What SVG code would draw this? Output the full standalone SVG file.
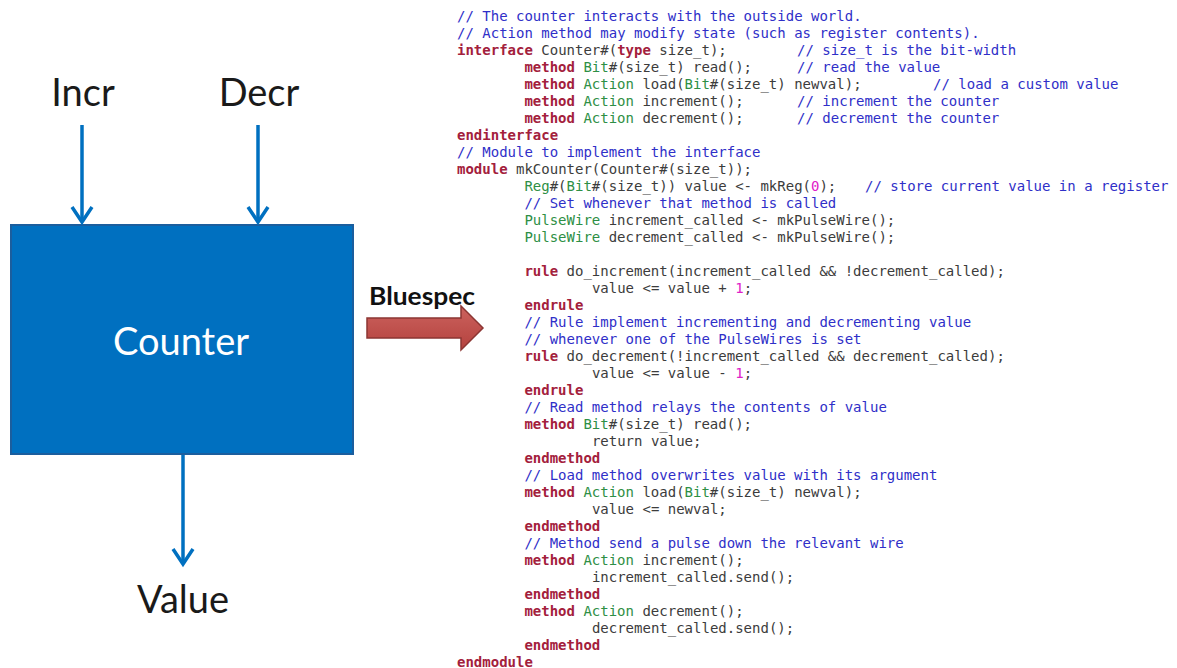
<svg xmlns="http://www.w3.org/2000/svg" width="1177" height="668" viewBox="0 0 1177 668">
<defs>
<style>
.lbl{font-family:Lato,"Liberation Sans",sans-serif;font-size:38px;fill:#1a1a1a;text-anchor:middle}
.code{font-family:"DejaVu Sans Mono","Liberation Mono",monospace;font-size:14px;fill:#3c3c3c}
.c{fill:#2f2fc8}
.k{fill:#a3203c;font-weight:bold}
.t{fill:#2e8f45}
.n{fill:#e020c8}
.wire{stroke:#0070c0;stroke-width:3.5;fill:none}
</style>
<marker id="ah" markerUnits="userSpaceOnUse" markerWidth="24" markerHeight="28" viewBox="-20 -14 24 28" refX="0" refY="0" orient="auto">
<path d="M-15,-10 L0,0 L-15,10" fill="none" stroke="#0070c0" stroke-width="3.5"/>
</marker>
<linearGradient id="rg" x1="0" y1="0" x2="0" y2="1">
<stop offset="0" stop-color="#cc625e"/>
<stop offset="1" stop-color="#b4423e"/>
</linearGradient>
</defs>
<rect width="1177" height="668" fill="#ffffff"/>

<g id="incr"><text class="lbl" x="83" y="106">Incr</text></g>
<g id="decr"><text class="lbl" x="259" y="106">Decr</text></g>
<g id="counter">
<rect x="11" y="225" width="342" height="229" fill="#0070c0" stroke="#1b5e9e" stroke-width="2"/>
<text class="lbl" x="181" y="355" style="fill:#ffffff">Counter</text>
</g>
<g id="value"><text class="lbl" x="183" y="613">Value</text></g>

<g id="connectors">
<line class="wire" x1="82" y1="125" x2="82" y2="222" marker-end="url(#ah)"/>
<line class="wire" x1="258" y1="125" x2="258" y2="222" marker-end="url(#ah)"/>
<line class="wire" x1="183" y1="455" x2="183" y2="564" marker-end="url(#ah)"/>
</g>

<g id="bluespec">
<text x="369" y="305" font-family="Lato,'Liberation Sans',sans-serif" font-weight="bold" font-size="25" fill="#111" textLength="106" lengthAdjust="spacingAndGlyphs">Bluespec</text>
<polygon points="367,318 461,318 461,306 483,328 461,350 461,338 367,338" fill="url(#rg)" stroke="#8c3633" stroke-width="1.5"/>
</g>

<g id="code" class="code">
<text x="457" y="21" class="c">// The counter interacts with the outside world.</text>
<text x="457" y="38" class="c">// Action method may modify state (such as register contents).</text>
<text x="457" y="55"><tspan class="k">interface</tspan> Counter#(<tspan class="k">type</tspan> size_t);<tspan x="797" class="c">// size_t is the bit-width</tspan></text>
<text x="524.4" y="72"><tspan class="k">method</tspan> <tspan class="t">Bit</tspan>#(size_t) read();<tspan x="797" class="c">// read the value</tspan></text>
<text x="524.4" y="89"><tspan class="k">method</tspan> <tspan class="t">Action</tspan> load(<tspan class="t">Bit</tspan>#(size_t) newval);<tspan x="933" class="c">// load a custom value</tspan></text>
<text x="524.4" y="106"><tspan class="k">method</tspan> <tspan class="t">Action</tspan> increment();<tspan x="797" class="c">// increment the counter</tspan></text>
<text x="524.4" y="123"><tspan class="k">method</tspan> <tspan class="t">Action</tspan> decrement();<tspan x="797" class="c">// decrement the counter</tspan></text>
<text x="457" y="140" class="k">endinterface</text>
<text x="457" y="157" class="c">// Module to implement the interface</text>
<text x="457" y="174"><tspan class="k">module</tspan> mkCounter(Counter#(size_t));</text>
<text x="524.4" y="191"><tspan class="t">Reg</tspan>#(<tspan class="t">Bit</tspan>#(size_t)) value &lt;- mkReg(<tspan class="n">0</tspan>);<tspan x="865" class="c">// store current value in a register</tspan></text>
<text x="524.4" y="208" class="c">// Set whenever that method is called</text>
<text x="524.4" y="225"><tspan class="t">PulseWire</tspan> increment_called &lt;- mkPulseWire();</text>
<text x="524.4" y="242"><tspan class="t">PulseWire</tspan> decrement_called &lt;- mkPulseWire();</text>
<text x="524.4" y="276"><tspan class="k">rule</tspan> do_increment(increment_called &amp;&amp; !decrement_called);</text>
<text x="591.9" y="293">value &lt;= value + <tspan class="n">1</tspan>;</text>
<text x="524.4" y="310" class="k">endrule</text>
<text x="524.4" y="327" class="c">// Rule implement incrementing and decrementing value</text>
<text x="524.4" y="344" class="c">// whenever one of the PulseWires is set</text>
<text x="524.4" y="361"><tspan class="k">rule</tspan> do_decrement(!increment_called &amp;&amp; decrement_called);</text>
<text x="591.9" y="378">value &lt;= value - <tspan class="n">1</tspan>;</text>
<text x="524.4" y="395" class="k">endrule</text>
<text x="524.4" y="412" class="c">// Read method relays the contents of value</text>
<text x="524.4" y="429"><tspan class="k">method</tspan> <tspan class="t">Bit</tspan>#(size_t) read();</text>
<text x="591.9" y="446">return value;</text>
<text x="524.4" y="463" class="k">endmethod</text>
<text x="524.4" y="480" class="c">// Load method overwrites value with its argument</text>
<text x="524.4" y="497"><tspan class="k">method</tspan> <tspan class="t">Action</tspan> load(<tspan class="t">Bit</tspan>#(size_t) newval);</text>
<text x="591.9" y="514">value &lt;= newval;</text>
<text x="524.4" y="531" class="k">endmethod</text>
<text x="524.4" y="548" class="c">// Method send a pulse down the relevant wire</text>
<text x="524.4" y="565"><tspan class="k">method</tspan> <tspan class="t">Action</tspan> increment();</text>
<text x="591.9" y="582">increment_called.send();</text>
<text x="524.4" y="599" class="k">endmethod</text>
<text x="524.4" y="616"><tspan class="k">method</tspan> <tspan class="t">Action</tspan> decrement();</text>
<text x="591.9" y="633">decrement_called.send();</text>
<text x="524.4" y="650" class="k">endmethod</text>
<text x="457" y="667" class="k">endmodule</text>
</g>
</svg>
